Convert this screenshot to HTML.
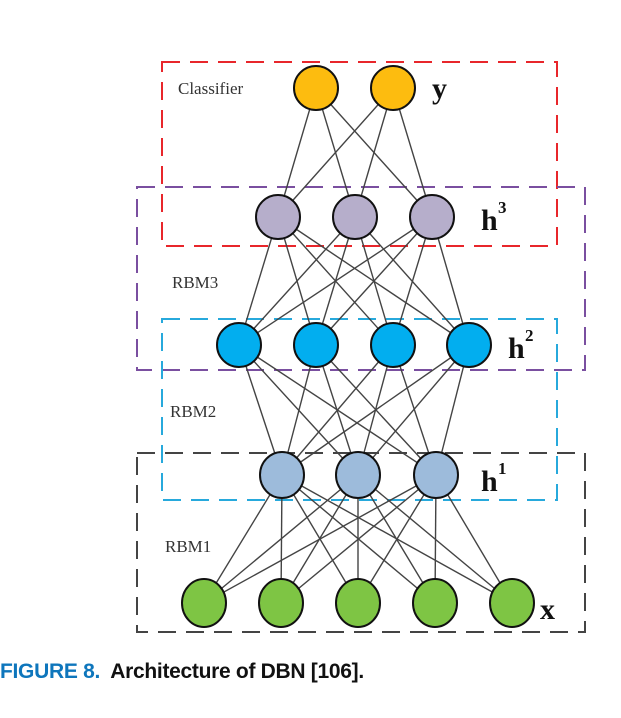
<!DOCTYPE html>
<html><head><style>
body{margin:0;background:#fff;width:621px;height:718px;overflow:hidden;position:relative}
svg{position:absolute;left:0;top:0}
.cap{position:absolute;left:0;top:660px;font-family:"Liberation Sans",sans-serif;font-weight:bold;font-size:21px;letter-spacing:-0.3px;white-space:nowrap}
</style></head><body>
<svg width="621" height="718" xmlns="http://www.w3.org/2000/svg">
<g fill="none" stroke-width="2" stroke-dasharray="18,10">
<rect x="162" y="62" width="395" height="184" stroke="#e8262b"/>
<rect x="137" y="187" width="448" height="183" stroke="#7a4fa0"/>
<rect x="162" y="319" width="395" height="181" stroke="#27a9dc"/>
<rect x="137" y="453" width="448" height="179" stroke="#444"/>
</g>
<g stroke="#444" stroke-width="1.4">
<line x1="316" y1="88" x2="278" y2="217"/><line x1="316" y1="88" x2="355" y2="217"/><line x1="316" y1="88" x2="432" y2="217"/>
<line x1="393" y1="88" x2="278" y2="217"/><line x1="393" y1="88" x2="355" y2="217"/><line x1="393" y1="88" x2="432" y2="217"/>

<line x1="278" y1="217" x2="239" y2="345"/><line x1="278" y1="217" x2="316" y2="345"/><line x1="278" y1="217" x2="393" y2="345"/><line x1="278" y1="217" x2="469" y2="345"/>
<line x1="355" y1="217" x2="239" y2="345"/><line x1="355" y1="217" x2="316" y2="345"/><line x1="355" y1="217" x2="393" y2="345"/><line x1="355" y1="217" x2="469" y2="345"/>
<line x1="432" y1="217" x2="239" y2="345"/><line x1="432" y1="217" x2="316" y2="345"/><line x1="432" y1="217" x2="393" y2="345"/><line x1="432" y1="217" x2="469" y2="345"/>

<line x1="239" y1="345" x2="282" y2="475"/><line x1="239" y1="345" x2="358" y2="475"/><line x1="239" y1="345" x2="436" y2="475"/>
<line x1="316" y1="345" x2="282" y2="475"/><line x1="316" y1="345" x2="358" y2="475"/><line x1="316" y1="345" x2="436" y2="475"/>
<line x1="393" y1="345" x2="282" y2="475"/><line x1="393" y1="345" x2="358" y2="475"/><line x1="393" y1="345" x2="436" y2="475"/>
<line x1="469" y1="345" x2="282" y2="475"/><line x1="469" y1="345" x2="358" y2="475"/><line x1="469" y1="345" x2="436" y2="475"/>

<line x1="282" y1="475" x2="204" y2="603"/><line x1="282" y1="475" x2="281" y2="603"/><line x1="282" y1="475" x2="358" y2="603"/><line x1="282" y1="475" x2="435" y2="603"/><line x1="282" y1="475" x2="512" y2="603"/>
<line x1="358" y1="475" x2="204" y2="603"/><line x1="358" y1="475" x2="281" y2="603"/><line x1="358" y1="475" x2="358" y2="603"/><line x1="358" y1="475" x2="435" y2="603"/><line x1="358" y1="475" x2="512" y2="603"/>
<line x1="436" y1="475" x2="204" y2="603"/><line x1="436" y1="475" x2="281" y2="603"/><line x1="436" y1="475" x2="358" y2="603"/><line x1="436" y1="475" x2="435" y2="603"/><line x1="436" y1="475" x2="512" y2="603"/>
</g>
<g stroke="#111" stroke-width="2">
<circle cx="316" cy="88" r="22" fill="#fdbc0f"/><circle cx="393" cy="88" r="22" fill="#fdbc0f"/>
<circle cx="278" cy="217" r="22" fill="#b6aecb"/><circle cx="355" cy="217" r="22" fill="#b6aecb"/><circle cx="432" cy="217" r="22" fill="#b6aecb"/>
<circle cx="239" cy="345" r="22" fill="#02aeef"/><circle cx="316" cy="345" r="22" fill="#02aeef"/><circle cx="393" cy="345" r="22" fill="#02aeef"/><circle cx="469" cy="345" r="22" fill="#02aeef"/>
<ellipse cx="282" cy="475" rx="22" ry="23" fill="#9dbbdb"/><ellipse cx="358" cy="475" rx="22" ry="23" fill="#9dbbdb"/><ellipse cx="436" cy="475" rx="22" ry="23" fill="#9dbbdb"/>
<ellipse cx="204" cy="603" rx="22" ry="24" fill="#7ec544"/><ellipse cx="281" cy="603" rx="22" ry="24" fill="#7ec544"/><ellipse cx="358" cy="603" rx="22" ry="24" fill="#7ec544"/><ellipse cx="435" cy="603" rx="22" ry="24" fill="#7ec544"/><ellipse cx="512" cy="603" rx="22" ry="24" fill="#7ec544"/>
</g>
<g font-family="Liberation Serif,serif" font-size="17" fill="#333">
<text x="178" y="94">Classifier</text>
<text x="172" y="288">RBM3</text>
<text x="170" y="417">RBM2</text>
<text x="165" y="552">RBM1</text>
</g>
<g font-family="Liberation Serif,serif" font-weight="bold" font-size="30" fill="#111">
<text x="432" y="98">y</text>
<text x="481" y="230">h</text><text x="498" y="213" font-size="17">3</text>
<text x="508" y="358">h</text><text x="525" y="341" font-size="17">2</text>
<text x="481" y="491">h</text><text x="498" y="474" font-size="17">1</text>
<text x="540" y="619">x</text>
</g>
</svg>
<div class="cap"><span style="color:#0e76bc">FIGURE 8.</span>&nbsp; <span style="color:#111">Architecture of DBN [106].</span></div>
</body></html>
